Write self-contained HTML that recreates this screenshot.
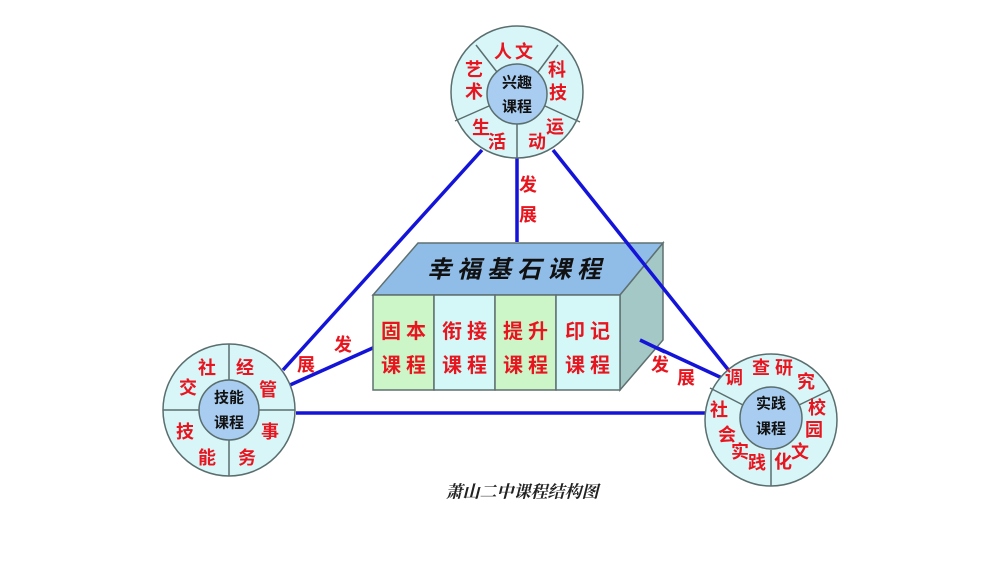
<!DOCTYPE html>
<html><head><meta charset="utf-8"><style>
html,body{margin:0;padding:0;background:#fff;}
svg{display:block;}
text{font-family:"Liberation Sans","Noto Sans CJK SC",sans-serif;text-anchor:middle;dominant-baseline:central;}
.r{fill:#e8141e;font-size:18px;font-weight:bold;}
.c{fill:#111;font-size:15px;font-weight:bold;}
.b{fill:#e8141e;font-size:20px;font-weight:bold;letter-spacing:5px;}
</style></head><body>
<svg width="1000" height="562" viewBox="0 0 1000 562">
<g stroke="#1414d8" stroke-width="3.5" fill="none">
<line x1="482" y1="150" x2="283" y2="370"/>
<line x1="517" y1="158" x2="517" y2="242"/>
<line x1="290" y1="385" x2="375" y2="347"/>
<line x1="296" y1="413" x2="706" y2="413"/>
<line x1="640" y1="340" x2="722" y2="378"/>
</g>
<!-- box -->
<polygon points="373,295 418,243 663,243 620,295" fill="#8fbde8" stroke="#5f7070" stroke-width="1.5"/>
<polygon points="620,295 663,243 663,340 620,390" fill="#a3c8c6" stroke="#5f7070" stroke-width="1.5"/>
<rect x="373" y="295" width="61" height="95" fill="#ccf5c8" stroke="#5f7070" stroke-width="1.5"/>
<rect x="434" y="295" width="61" height="95" fill="#d4f8f8" stroke="#5f7070" stroke-width="1.5"/>
<rect x="495" y="295" width="61" height="95" fill="#ccf5c8" stroke="#5f7070" stroke-width="1.5"/>
<rect x="556" y="295" width="64" height="95" fill="#d4f8f8" stroke="#5f7070" stroke-width="1.5"/>
<line x1="640" y1="340" x2="665" y2="352" stroke="#1414d8" stroke-width="3.5"/>
<line x1="553" y1="150" x2="730" y2="372" stroke="#1414d8" stroke-width="3.5"/>
<text x="517" y="270" style="font-size:24px;font-weight:bold;font-style:italic;fill:#111;letter-spacing:6px">幸福基石课程</text>
<text class="b" x="406" y="332">固本</text><text class="b" x="406" y="366">课程</text>
<text class="b" x="467" y="332">衔接</text><text class="b" x="467" y="366">课程</text>
<text class="b" x="528" y="332">提升</text><text class="b" x="528" y="366">课程</text>
<text class="b" x="590" y="332">印记</text><text class="b" x="590" y="366">课程</text>
<!-- 发展 labels -->
<text class="r" x="528" y="185">发</text><text class="r" x="528" y="215">展</text>
<text class="r" x="343" y="345">发</text><text class="r" x="306" y="365">展</text>
<text class="r" x="660" y="365">发</text><text class="r" x="686" y="378">展</text>
<!-- top circle -->
<g stroke="#5a6e6e" stroke-width="1.5">
<circle cx="517" cy="92" r="66" fill="#d8f6f8"/>
<line x1="497" y1="72" x2="476" y2="45"/>
<line x1="538" y1="72" x2="558" y2="45"/>
<line x1="545" y1="106" x2="580" y2="122"/>
<line x1="517" y1="122" x2="517" y2="158"/>
<line x1="489" y1="106" x2="455" y2="121"/>
<circle cx="517" cy="94" r="30" fill="#a9cdf0"/>
</g>
<text class="c" x="517" y="83">兴趣</text><text class="c" x="517" y="107">课程</text>
<text class="r" x="503" y="52">人</text><text class="r" x="524" y="52">文</text>
<text class="r" x="474" y="70">艺</text><text class="r" x="474" y="92">术</text>
<text class="r" x="557" y="70">科</text><text class="r" x="558" y="93">技</text>
<text class="r" x="481" y="128">生</text><text class="r" x="497" y="142">活</text>
<text class="r" x="555" y="127">运</text><text class="r" x="537" y="142">动</text>
<!-- left circle -->
<g stroke="#5a6e6e" stroke-width="1.5">
<circle cx="229" cy="410" r="66" fill="#d8f6f8"/>
<line x1="229" y1="344" x2="229" y2="476"/>
<line x1="163" y1="410" x2="295" y2="410"/>
<circle cx="229" cy="410" r="30" fill="#a9cdf0"/>
</g>
<text class="c" x="229" y="398">技能</text><text class="c" x="229" y="423">课程</text>
<text class="r" x="207" y="368">社</text><text class="r" x="188" y="388">交</text>
<text class="r" x="245" y="368">经</text><text class="r" x="268" y="390">管</text>
<text class="r" x="185" y="432">技</text><text class="r" x="207" y="458">能</text>
<text class="r" x="270" y="432">事</text><text class="r" x="247" y="458">务</text>
<!-- right circle -->
<g stroke="#5a6e6e" stroke-width="1.5">
<circle cx="771" cy="420" r="66" fill="#d8f6f8"/>
<line x1="743" y1="405" x2="710" y2="388"/>
<line x1="799" y1="405" x2="830" y2="390"/>
<line x1="771" y1="450" x2="771" y2="486"/>
<circle cx="771" cy="418" r="31" fill="#a9cdf0"/>
</g>
<text class="c" x="771" y="404">实践</text><text class="c" x="771" y="429">课程</text>
<text class="r" x="734" y="378">调</text><text class="r" x="761" y="368">查</text>
<text class="r" x="784" y="368">研</text><text class="r" x="806" y="382">究</text>
<text class="r" x="719" y="410">社</text><text class="r" x="727" y="435">会</text>
<text class="r" x="740" y="452">实</text><text class="r" x="757" y="463">践</text>
<text class="r" x="817" y="408">校</text><text class="r" x="814" y="430">园</text>
<text class="r" x="800" y="452">文</text><text class="r" x="783" y="462">化</text>
<text x="522" y="492" style="font-size:17px;font-style:italic;font-weight:bold;fill:#222;font-family:'Liberation Serif','Noto Serif CJK SC',serif">萧山二中课程结构图</text>
</svg>
</body></html>
